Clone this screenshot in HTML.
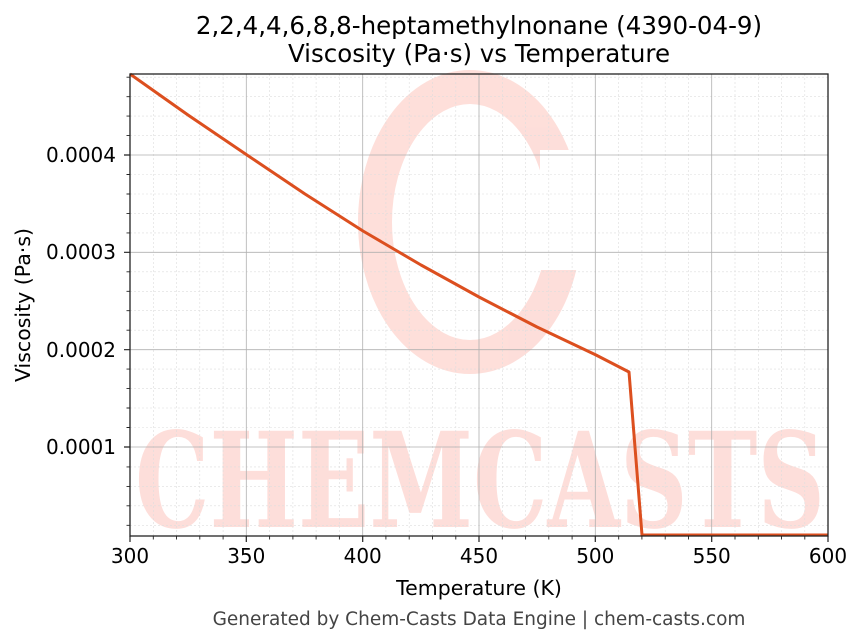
<!DOCTYPE html>
<html><head><meta charset="utf-8"><style>
html,body{margin:0;padding:0;background:#fff;width:863px;height:644px;overflow:hidden}
text{font-family:"DejaVu Sans","Liberation Sans",sans-serif}
</style></head><body>
<svg width="863" height="644" viewBox="0 0 863 644" xmlns="http://www.w3.org/2000/svg">
<rect width="863" height="644" fill="#fff"/>
<g opacity="0.55">
<ellipse cx="470" cy="222" rx="95" ry="135" fill="none" stroke="#fdc4bc" stroke-width="34"/>
<rect x="540" y="150" width="60" height="120" fill="#fff"/>
<text x="480" y="527" font-size="132" font-weight="bold" fill="#fdc4bc" text-anchor="middle" textLength="690" lengthAdjust="spacingAndGlyphs" style="font-family:'DejaVu Serif','Liberation Serif',serif">CHEMCASTS</text>
</g>
<g stroke="#dddddd" stroke-width="0.6" stroke-dasharray="2,2">
<path d="M153.3 74V536M176.5 74V536M199.8 74V536M223.1 74V536M269.6 74V536M292.9 74V536M316.1 74V536M339.4 74V536M385.9 74V536M409.2 74V536M432.5 74V536M455.8 74V536M502.3 74V536M525.6 74V536M548.8 74V536M572.1 74V536M618.7 74V536M641.9 74V536M665.2 74V536M688.5 74V536M735 74V536M758.3 74V536M781.5 74V536M804.8 74V536"/>
<path d="M130 525.3H828M130 505.8H828M130 486.4H828M130 466.9H828M130 427.5H828M130 408H828M130 388.6H828M130 369.1H828M130 330.2H828M130 310.7H828M130 291.3H828M130 271.8H828M130 232.9H828M130 213.4H828M130 194H828M130 174.5H828M130 135.6H828M130 116.1H828M130 96.7H828M130 77.2H828"/>
</g>
<g stroke="#b0b0b0" stroke-width="0.8">
<path d="M246.3 74V536M362.7 74V536M479 74V536M595.3 74V536M711.7 74V536"/>
<path d="M130 447H828M130 349.7H828M130 252.3H828M130 155H828"/>
</g>
<polyline fill="none" stroke="#dc4f1f" stroke-width="3" stroke-linejoin="round" points="130,74 188,115 247,155 305,194 363,231 421,265 479,297 537,327 596,355 629,372 642,535 828,535"/>
<rect x="130" y="74" width="698" height="462" fill="none" stroke="#222" stroke-width="1.3"/>
<g stroke="#222" stroke-width="1.2">
<path d="M130 536v6M246.3 536v6M362.7 536v6M479 536v6M595.3 536v6M711.7 536v6M828 536v6"/>
<path d="M130 447h-6M130 349.7h-6M130 252.3h-6M130 155h-6"/>
</g>
<g stroke="#222" stroke-width="0.9">
<path d="M153.3 536v3.5M176.5 536v3.5M199.8 536v3.5M223.1 536v3.5M269.6 536v3.5M292.9 536v3.5M316.1 536v3.5M339.4 536v3.5M385.9 536v3.5M409.2 536v3.5M432.5 536v3.5M455.8 536v3.5M502.3 536v3.5M525.6 536v3.5M548.8 536v3.5M572.1 536v3.5M618.7 536v3.5M641.9 536v3.5M665.2 536v3.5M688.5 536v3.5M735 536v3.5M758.3 536v3.5M781.5 536v3.5M804.8 536v3.5"/>
<path d="M130 525.3h-3.5M130 505.8h-3.5M130 486.4h-3.5M130 466.9h-3.5M130 427.5h-3.5M130 408h-3.5M130 388.6h-3.5M130 369.1h-3.5M130 330.2h-3.5M130 310.7h-3.5M130 291.3h-3.5M130 271.8h-3.5M130 232.9h-3.5M130 213.4h-3.5M130 194h-3.5M130 174.5h-3.5M130 135.6h-3.5M130 116.1h-3.5M130 96.7h-3.5M130 77.2h-3.5"/>
</g>
<g font-size="20" fill="#000" text-anchor="middle">
<text x="130" y="563">300</text><text x="246.3" y="563">350</text><text x="362.7" y="563">400</text><text x="479" y="563">450</text><text x="595.3" y="563">500</text><text x="711.7" y="563">550</text><text x="828" y="563">600</text>
</g>
<g font-size="20" fill="#000" text-anchor="end">
<text x="116" y="454">0.0001</text><text x="116" y="357">0.0002</text><text x="116" y="259">0.0003</text><text x="116" y="162">0.0004</text>
</g>
<text x="479" y="595" font-size="20.5" text-anchor="middle">Temperature (K)</text>
<text x="30" y="305" font-size="20.5" text-anchor="middle" transform="rotate(-90 30 305)">Viscosity (Pa·s)</text>
<text x="479" y="34" font-size="24.5" text-anchor="middle">2,2,4,4,6,8,8-heptamethylnonane (4390-04-9)</text>
<text x="479" y="62" font-size="24.5" text-anchor="middle">Viscosity (Pa·s) vs Temperature</text>
<text x="479" y="625" font-size="18.5" fill="#444" text-anchor="middle">Generated by Chem-Casts Data Engine | chem-casts.com</text>
</svg>
</body></html>
